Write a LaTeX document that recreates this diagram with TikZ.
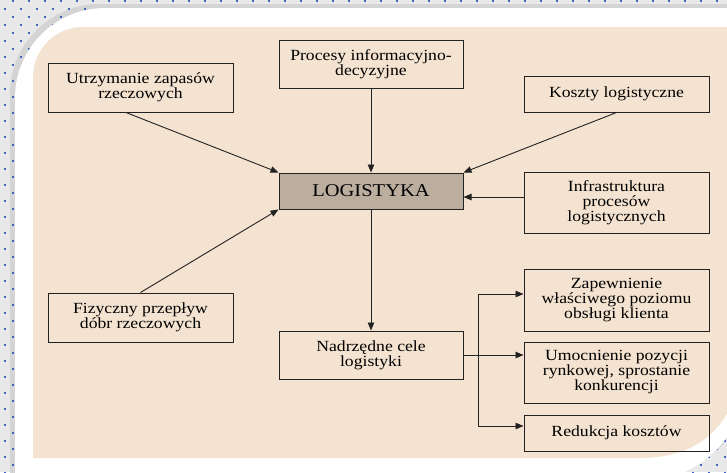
\documentclass[tikz,border=0pt]{standalone}
\usepackage{fontspec}
\setmainfont{Liberation Serif}[FakeStretch=1.14]
\usetikzlibrary{arrows.meta}
\definecolor{fondo}{HTML}{F4E3D0}
\definecolor{cajagris}{HTML}{BBAE9F}
\definecolor{linea}{HTML}{222222}
\definecolor{punto}{HTML}{3F64C2}
\definecolor{sombra}{HTML}{D4D4D4}
\definecolor{borde}{HTML}{E8E8E8}

\begin{document}
\begin{tikzpicture}[x=1pt,y=-1pt,
    box/.style={draw=linea, line width=1pt, minimum width=185pt, inner sep=0pt, align=center,
                font=\fontsize{15.5}{15}\selectfont, text=black},
    arr/.style={draw=linea, line width=0.9pt, -{Triangle[length=8pt,width=6.5pt]}}]
    \useasboundingbox (0,0) rectangle (727,472);

    % Fondo
    \fill[borde] (0,0) rectangle (727,472);
    \fill[sombra] (10,490) -- (10,94) .. controls (10,44.3) and (50.3,4) .. (100,4) -- (750,4) -- (750,376)
        .. controls (750,431.2) and (705.2,476) .. (650,476) -- cycle;
    \fill[punto] \foreach \i in {0,...,90} { \foreach \j in {0,...,59} {
        \ifodd\numexpr\i+\j\relax (4+8*\i,8*\j) rectangle ++(1.8,1.8) \fi } };
    \fill[white] (15,490) -- (15,98) .. controls (15,48.3) and (55.3,8) .. (105,8) -- (745,8) -- (745,380)
        .. controls (745,435.2) and (700.2,480) .. (645,480) -- cycle;
    \fill[fondo] (33,458) -- (33,77) .. controls (33,49.4) and (55.4,27) .. (83,27) -- (745,27) -- (745,330)
        .. controls (745,420) and (705,458) .. (640,458) -- cycle;

    % Nodos
    \node[box, minimum height=49pt] (utrz) at (140.5,87.5) {Utrzymanie zapasów\\rzeczowych};
    \node[box, minimum height=48pt, minimum width=184pt] (proc) at (371,64) {Procesy informacyjno-\\decyzyjne};
    \node[box, minimum height=36pt] (kosz) at (616.5,94) {Koszty logistyczne};
    \node[box, minimum height=61pt] (infra) at (616.5,202.5) {Infrastruktura\\procesów\\logistycznych};
    \node[box, minimum height=36pt, minimum width=184pt, fill=cajagris,
          font=\fontsize{18}{18}\selectfont] (logi) at (371,191) {LOGISTYKA};
    \node[box, minimum height=49pt] (fiz) at (140.5,317.5) {Fizyczny przepływ\\dóbr rzeczowych};
    \node[box, minimum height=48pt, minimum width=184pt] (nad) at (371,355) {Nadrzędne cele\\logistyki};
    \node[box, minimum height=62pt] (zap) at (616.5,300) {Zapewnienie\\właściwego poziomu\\obsługi klienta};
    \node[box, minimum height=61pt] (umo) at (616.5,372.5) {Umocnienie pozycji\\rynkowej, sprostanie\\konkurencji};
    \node[box, minimum height=36pt] (red) at (616.5,433) {Redukcja kosztów};
    \coordinate (rama) at (478,294);
    \coordinate (ramb) at (478,426);

    % Conexiones
    \draw[arr] ([xshift=-14.5pt]utrz.south) -- (logi.north west);
    \draw[arr] (proc.south) -- (logi.north);
    \draw[arr] (kosz.south) -- (logi.north east);
    \draw[arr] ([yshift=5.5pt]infra.west) -- ([yshift=-6pt]logi.east);
    \draw[arr] (fiz.north) -- (logi.south west);
    \draw[arr] (logi.south) -- (nad.north);
    \draw[arr] (nad.east) -- (nad.east -| umo.west);
    \draw[arr] (rama) -- (rama -| zap.west);
    \draw[arr] (rama) -- (ramb) -- (ramb -| red.west);

\end{tikzpicture}
\end{document}
